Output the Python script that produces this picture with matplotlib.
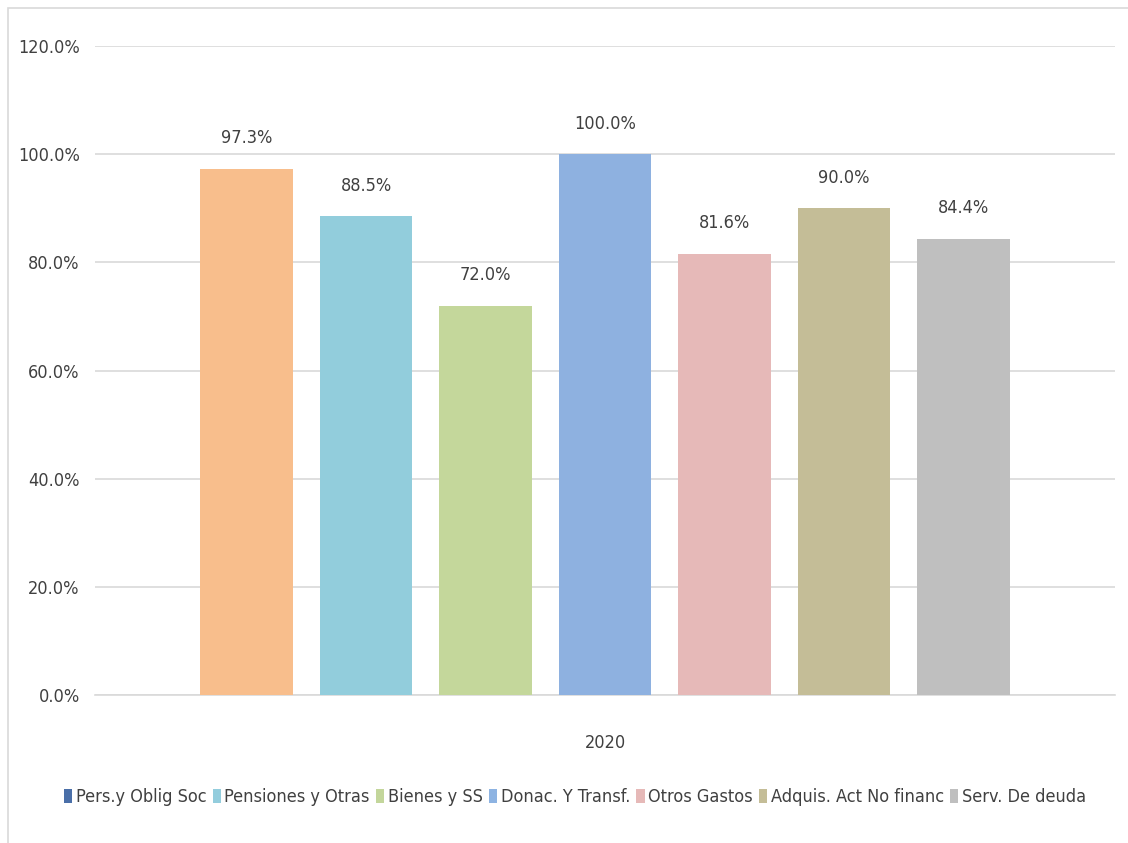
import matplotlib
matplotlib.use("Agg")
import matplotlib.pyplot as plt
from matplotlib import font_manager
from matplotlib.patches import Patch, Rectangle
from matplotlib.ticker import FuncFormatter

categories = ["Pers.y Oblig Soc", "Pensiones y Otras", "Bienes y SS",
              "Donac. Y Transf.", "Otros Gastos", "Adquis. Act No financ",
              "Serv. De deuda"]
values = [97.3, 88.5, 72.0, 100.0, 81.6, 90.0, 84.4]
year_label = "2020"
y_ticks = [0, 20, 40, 60, 80, 100, 120]

bar_colors = ["#F8BE8C", "#92CDDC", "#C4D79B", "#8EB1E0", "#E6B9B8",
              "#C4BD97", "#BFBFBF"]
legend_colors = ["#4A6FA8", "#93CDDD", "#C3D69B", "#8DB3E2", "#E6B9B8",
                 "#C4BD97", "#BFBFBF"]

# Prefer a narrow sans face when one is installed
narrow = [f for f in font_manager.fontManager.ttflist
          if f.stretch in ("condensed", "semi-condensed", "extra-condensed")
          or "Narrow" in f.name or "Condensed" in f.name]
if narrow:
    fam = narrow[0].name
    stretch = narrow[0].stretch
    fsize = 13
else:
    fam = "Liberation Sans"
    stretch = "normal"
    fsize = 12
plt.rcParams["font.family"] = [fam, "DejaVu Sans"]
plt.rcParams["font.stretch"] = stretch
text_color = "#404040"

fig = plt.figure(figsize=(11.28, 8.43), dpi=100)
fig.patch.set_facecolor("white")
fig.patches.append(Rectangle((8 / 1128, -0.01), 1.02, 1 - 8 / 843 + 0.01,
                             transform=fig.transFigure, fill=False,
                             edgecolor="#D9D9D9", linewidth=1.2))

ax = fig.add_axes([95 / 1128, 1 - 695 / 843, (1115 - 95) / 1128,
                   (695 - 46) / 843])
x = list(range(len(values)))
ax.bar(x, values, width=0.775, color=bar_colors, zorder=3)
for xi, v in zip(x, values):
    ax.text(xi, v + 4.0, f"{v:.1f}%", ha="center", va="bottom",
            fontsize=fsize, color=text_color)

ax.set_ylim(0, 120)
ax.set_xlim(-1.27, 7.27)
ax.set_yticks(y_ticks)
ax.yaxis.set_major_formatter(FuncFormatter(lambda v, p: f"{v:.1f}%"))
ax.tick_params(axis="y", length=0, pad=11, labelsize=fsize,
               labelcolor=text_color)
ax.set_xticks([3])
ax.set_xticklabels([year_label])
ax.tick_params(axis="x", length=0, pad=28, labelsize=fsize,
               labelcolor=text_color)
ax.grid(axis="y", color="#D9D9D9", linewidth=1.2, zorder=0)
for s in ["top", "right", "left"]:
    ax.spines[s].set_visible(False)
ax.spines["bottom"].set_color("#D9D9D9")
ax.spines["bottom"].set_linewidth(1.2)

handles = [Patch(facecolor=c, edgecolor="none") for c in legend_colors]
fig.legend(handles, categories, loc="center", ncol=7,
           bbox_to_anchor=(575 / 1128, 1 - 797 / 843), frameon=False,
           fontsize=fsize, labelcolor=text_color, handlelength=0.45,
           handleheight=0.8, handletextpad=0.2, columnspacing=0.35)

fig.savefig("out.png", dpi=100, facecolor="white")
